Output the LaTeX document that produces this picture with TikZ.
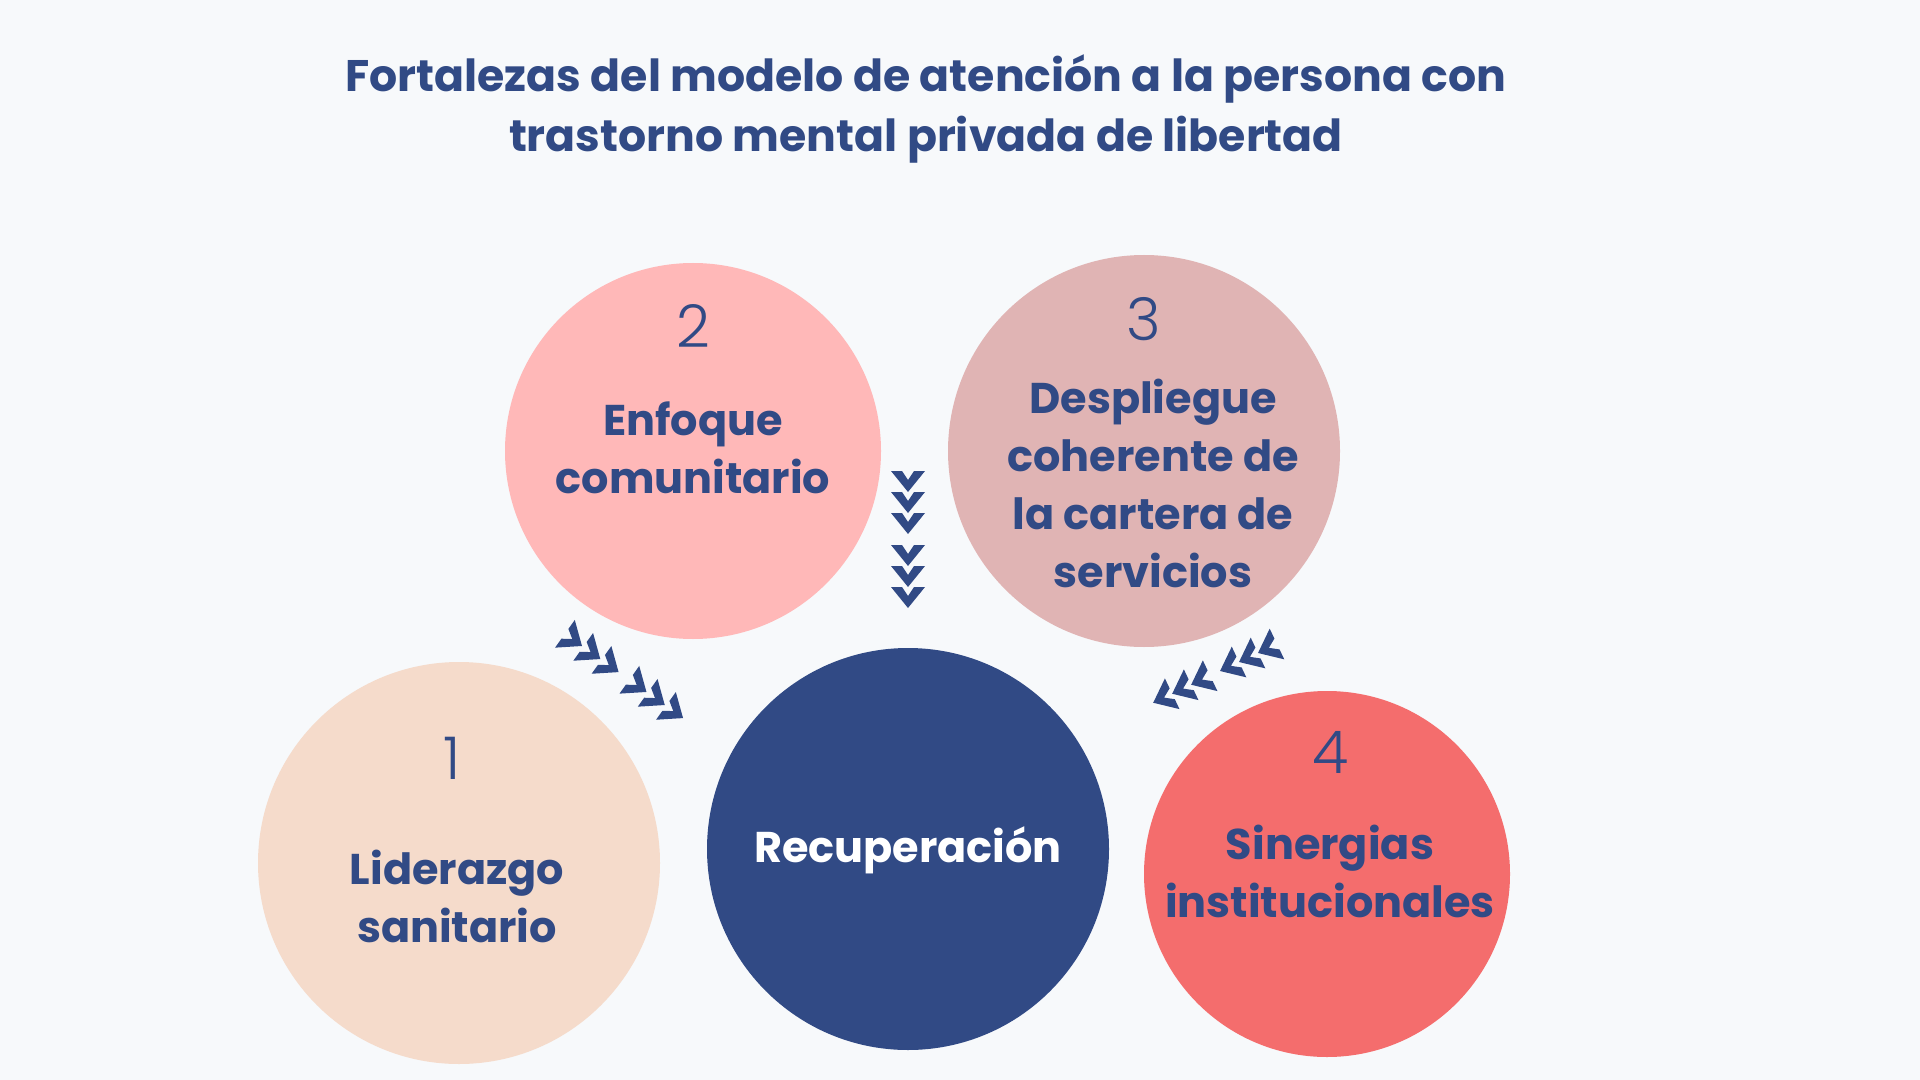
\documentclass[tikz,border=0pt]{standalone}
\usepackage{fontspec}
\setmainfont{Poppins}
\IfFontExistsTF{Poppins Light}{\newfontfamily\numfont{Poppins Light}}{\newfontfamily\numfont{Poppins}}
\definecolor{bg}{HTML}{F7F9FB}
\definecolor{navy}{HTML}{314A85}
\definecolor{cone}{HTML}{F5DBCB}
\definecolor{ctwo}{HTML}{FFB8B8}
\definecolor{cthree}{HTML}{E0B4B4}
\definecolor{cfour}{HTML}{F46D6D}
\tikzset{
  blob/.style={circle, inner sep=0pt, draw=none},
  lbl/.style={anchor=base, align=center, inner sep=0pt, text=navy, font=\bfseries\fontsize{21.5}{29}\selectfont},
  num/.style={anchor=base, inner sep=0pt, text=navy, font=\numfont\fontsize{29.5}{30}\selectfont},
  ttl/.style={anchor=base, align=center, inner sep=0pt, text=navy, font=\bfseries\fontsize{22.1}{30}\selectfont},
}
% #1,#2: tip of first chevron, #3: rotation, #4: spacing factor
\newcommand\chevgroup[4]{%
  \begin{scope}[shift={(#1,#2)}, rotate=#3]
    \foreach \d in {0,21,42,74,95,116}
      \fill[navy] (0,{\d*#4}) -- ++(-17,-21) -- ++(11,0) -- ++(6,9) -- ++(6,-9) -- ++(11,0) -- cycle;
  \end{scope}}
\begin{document}
\begin{tikzpicture}[x=0.5pt, y=-0.5pt]
\useasboundingbox (0,0) rectangle (1920,1080);
\fill[bg] (0,0) rectangle (1920,1080);
% title (anchor at baseline of last line)
\node[ttl] (title) at (926,152) {Fortalezas del modelo de atención a la persona con\\trastorno mental privada de libertad};
% circles
\node[blob, fill=ctwo, minimum size=188pt] (c2) at (693,451) {};
\node[blob, fill=cthree, minimum size=196pt] (c3) at (1144,451) {};
\node[blob, fill=cone, minimum size=201pt] (c1) at (459,863) {};
\node[blob, fill=navy, minimum size=201pt] (rec) at (908,849) {};
\node[blob, fill=cfour, minimum size=183pt] (c4) at (1327,874) {};
% numbers
\node[num] (n2) at (693,348) {2};
\node[num] (n3) at (1144,341) {3};
\node[num] (n1) at (452,779) {1};
\node[num] (n4) at (1331,773) {4};
% labels (anchor at baseline of last line)
\node[lbl] (l2) at (693,493) {Enfoque\\comunitario};
\node[lbl] (l3) at (1153,587) {Despliegue\\coherente de\\la cartera de\\servicios};
\node[lbl] (l1) at (457,942) {Liderazgo\\sanitario};
\node[lbl, text=white] (lr) at (908,862) {Recuperación};
\node[lbl] (l4) at (1330,917) {Sinergias\\institucionales};
% chevrons
\chevgroup{908}{492}{0}{1}
\chevgroup{582}{646}{54.5}{1.07}
\chevgroup{1258}{653}{-64.6}{1}
\end{tikzpicture}
\end{document}
